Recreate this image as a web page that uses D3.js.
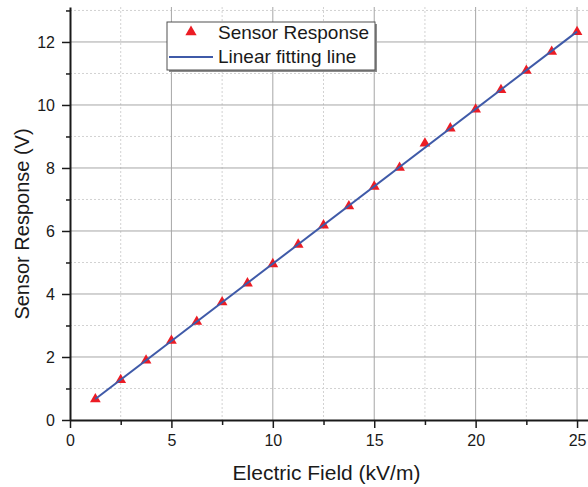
<!DOCTYPE html>
<html>

<head>
    <meta charset="utf-8">
    <style>
        body { margin: 0; background: #fff; }
        svg { font-family: "Liberation Sans", Arial, sans-serif; }
        .grid-major line { stroke: #a6a6a6; stroke-width: 1; }
        .grid-minor line { stroke: #d2d2d2; stroke-width: 1; stroke-dasharray: 2, 2; }
        .axis path, .axis line { stroke: #1a1a1a; }
        .axis text { font-size: 16px; fill: #1a1a1a; }
    </style>
</head>

<body>
    <svg id="container" width="588" height="487"></svg>
</body>
<script src="https://cdn.jsdelivr.net/npm/d3@7"></script>
<script>
    // data
    let fieldValues = [1.25, 2.5, 3.75, 5, 6.25, 7.5, 8.75, 10, 11.25, 12.5,
        13.75, 15, 16.25, 17.5, 18.75, 20, 21.25, 22.5, 23.75, 25]
    let responseValues = [0.66, 1.27, 1.89, 2.52, 3.12, 3.74, 4.34, 4.95, 5.57, 6.18,
        6.79, 7.41, 8.01, 8.78, 9.26, 9.86, 10.48, 11.09, 11.69, 12.32]
    let xTicks = [0, 5, 10, 15, 20, 25]
    let xMinorTicks = [2.5, 7.5, 12.5, 17.5, 22.5]
    let yTicks = [0, 2, 4, 6, 8, 10, 12]
    let yMinorTicks = [1, 3, 5, 7, 9, 11, 13]
    let legendLabels = ["Sensor Response", "Linear fitting line"]

    let svg = d3.select("#container")
    let plotLeft = 70, plotRight = 588, plotTop = 7, plotBottom = 420

    let x = d3.scaleLinear().domain([0, 25.54]).range([plotLeft, plotRight])
    let y = d3.scaleLinear().domain([0, 13.11]).range([plotBottom, plotTop])

    // grid lines
    svg.append("g").attr("class", "grid-minor")
        .selectAll("line").data(xMinorTicks).enter().append("line")
        .attr("x1", d => x(d)).attr("x2", d => x(d))
        .attr("y1", plotTop).attr("y2", plotBottom)
    svg.append("g").attr("class", "grid-minor")
        .selectAll("line").data(yMinorTicks).enter().append("line")
        .attr("x1", plotLeft).attr("x2", plotRight)
        .attr("y1", d => y(d)).attr("y2", d => y(d))
    svg.append("g").attr("class", "grid-major")
        .selectAll("line").data(xTicks.slice(1)).enter().append("line")
        .attr("x1", d => x(d)).attr("x2", d => x(d))
        .attr("y1", plotTop).attr("y2", plotBottom)
    svg.append("g").attr("class", "grid-major")
        .selectAll("line").data(yTicks.slice(1)).enter().append("line")
        .attr("x1", plotLeft).attr("x2", plotRight)
        .attr("y1", d => y(d)).attr("y2", d => y(d))

    // linear fit from the data
    let mx = d3.mean(fieldValues), my = d3.mean(responseValues)
    let sxy = d3.sum(fieldValues, (v, i) => (v - mx) * (responseValues[i] - my))
    let sxx = d3.sum(fieldValues, v => (v - mx) * (v - mx))
    let slope = sxy / sxx
    let intercept = my - slope * mx
    let fitEnds = d3.extent(fieldValues)

    // markers first, fit line on top
    let triangle = d3.symbol().type(d3.symbolTriangle).size(50)
    svg.append("g")
        .selectAll("path")
        .data(fieldValues)
        .enter()
        .append("path")
        .attr("d", triangle)
        .attr("transform", (d, i) => "translate(" + x(d) + "," + y(responseValues[i]) + ")")
        .attr("fill", "#ec1c24")

    let line = d3.line().x(d => x(d)).y(d => y(slope * d + intercept))
    svg.append("path")
        .datum(fitEnds)
        .attr("d", line)
        .attr("fill", "none")
        .attr("stroke", "#3f5aa8")
        .attr("stroke-width", 2)

    // axes
    let xAxis = svg.append("g").attr("class", "axis")
        .attr("transform", "translate(0," + plotBottom + ")")
        .call(d3.axisBottom(x).tickValues(xTicks).tickSizeInner(8).tickSizeOuter(0).tickPadding(7))
    xAxis.select(".domain").attr("stroke-width", 2)
    xAxis.selectAll("line").attr("stroke-width", 1.5)

    svg.append("g").attr("class", "axis")
        .attr("transform", "translate(0," + plotBottom + ")")
        .call(d3.axisBottom(x).tickValues(xMinorTicks).tickSize(5).tickFormat(""))
        .call(g => g.select(".domain").remove())
        .selectAll("line").attr("stroke-width", 1.5)

    let yAxis = svg.append("g").attr("class", "axis")
        .attr("transform", "translate(" + plotLeft + ",0)")
        .call(d3.axisLeft(y).tickValues(yTicks).tickSizeInner(8).tickSizeOuter(0))
    yAxis.select(".domain").attr("stroke-width", 2)
    yAxis.selectAll("line").attr("stroke-width", 1.5)
    yAxis.selectAll("text").attr("x", 55 - plotLeft)

    svg.append("g").attr("class", "axis")
        .attr("transform", "translate(" + plotLeft + ",0)")
        .call(d3.axisLeft(y).tickValues(yMinorTicks).tickSize(4).tickFormat(""))
        .call(g => g.select(".domain").remove())
        .selectAll("line").attr("stroke-width", 1.5)

    // axis titles
    svg.append("text")
        .attr("x", (plotLeft + x(25)) / 2 + 3)
        .attr("y", 480)
        .attr("text-anchor", "middle")
        .attr("font-size", 21)
        .attr("fill", "#1a1a1a")
        .text("Electric Field (kV/m)")

    svg.append("text")
        .attr("transform", "translate(29,224) rotate(-90)")
        .attr("text-anchor", "middle")
        .attr("font-size", 20)
        .attr("fill", "#1a1a1a")
        .text("Sensor Response (V)")

    // legend
    let legend = svg.append("g")
    legend.append("rect")
        .attr("x", 169).attr("y", 24).attr("width", 208).attr("height", 48)
        .attr("fill", "#8c8c8c")
    legend.append("rect")
        .attr("x", 167).attr("y", 22).attr("width", 208).attr("height", 48)
        .attr("fill", "#fff").attr("stroke", "#505050").attr("stroke-width", 1)
    legend.append("path")
        .attr("d", d3.symbol().type(d3.symbolTriangle).size(55))
        .attr("transform", "translate(191,32)")
        .attr("fill", "#ec1c24")
    legend.append("line")
        .attr("x1", 169).attr("x2", 213).attr("y1", 57).attr("y2", 57)
        .attr("stroke", "#3f5aa8").attr("stroke-width", 2)
    legend.selectAll("text")
        .data(legendLabels)
        .enter()
        .append("text")
        .attr("x", 218)
        .attr("y", (d, i) => 39 + i * 24)
        .attr("font-size", 19)
        .attr("fill", "#1a1a1a")
        .text(d => d)
</script>

</html>
